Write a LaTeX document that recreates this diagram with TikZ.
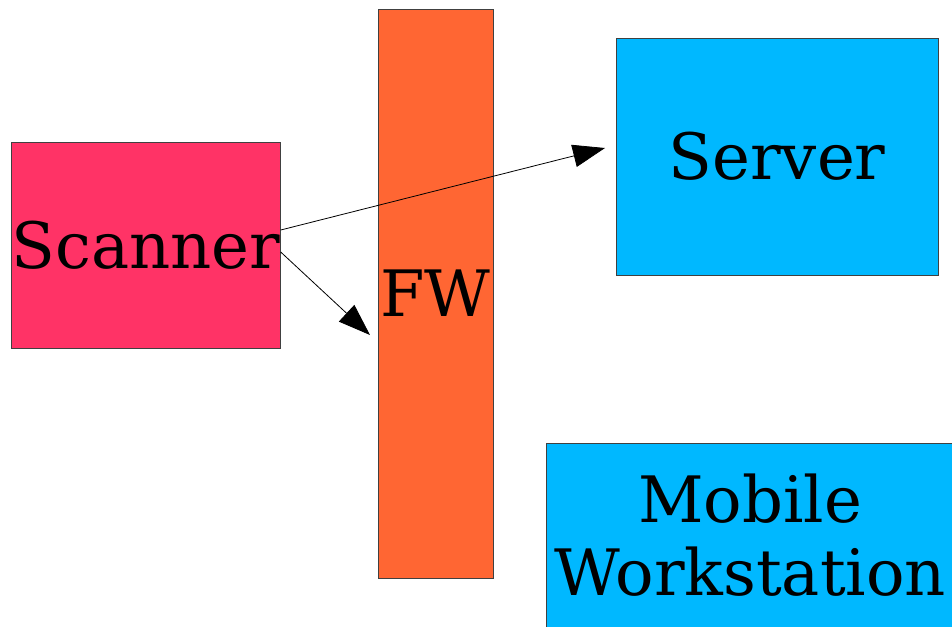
\documentclass[tikz,border=0pt]{standalone}
\usepackage{fontspec}
\setmainfont{DejaVu Serif}
\usetikzlibrary{arrows.meta}
\definecolor{scanred}{HTML}{FF3366}
\definecolor{fworange}{HTML}{FF6633}
\definecolor{hostblue}{HTML}{00B8FF}
\tikzset{
  box/.style={draw=black!75, line width=0.5pt, inner sep=0pt, align=center,
    font=\fontsize{48}{55}\selectfont},
  link/.style={line width=0.6pt, -{Triangle[length=24pt,width=17pt]}}
}
\begin{document}
\begin{tikzpicture}[x=0.75pt,y=0.75pt,yscale=-1]
\useasboundingbox (0,0) rectangle (952,626);

% Boxes
\node (scanner) [box, fill=scanred, minimum width=201pt, minimum height=154.5pt] at (146,245) {Scanner};
\node (fw) [box, fill=fworange, minimum width=86pt, minimum height=427pt] at (435.5,293.5) {FW};
\node (server) [box, fill=hostblue, minimum width=241.5pt, minimum height=177.75pt] at (777,156.5) {Server};
\node (mobile) [box, fill=hostblue, minimum width=306pt, minimum height=138pt] at (750,535) {Mobile\\Workstation};

% Arrow ends
\coordinate (toserver) at (605,148);
\coordinate (tofw) at (370,335);

% Arrows
\draw [link] ([yshift=-11.25pt]scanner.east) -- (toserver);
\draw [link] ([yshift=5.25pt]scanner.east) -- (tofw);

\end{tikzpicture}
\end{document}
